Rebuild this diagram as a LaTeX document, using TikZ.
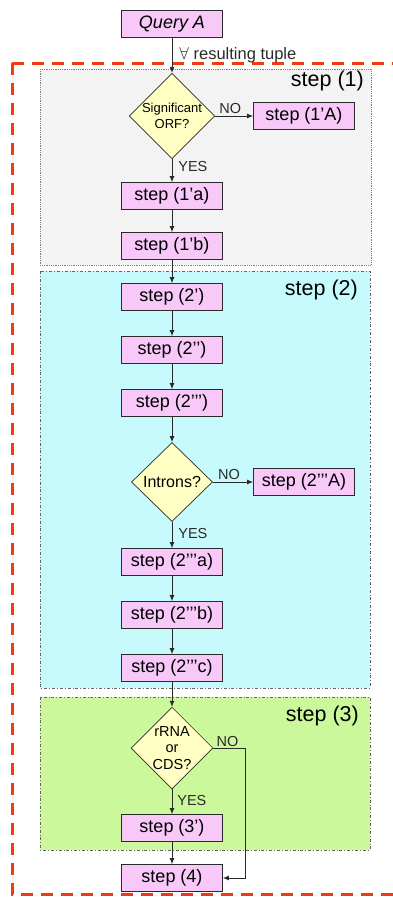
\documentclass[tikz,border=0pt]{standalone}
\usepackage{fontspec}
\setmainfont{Liberation Sans}
\usetikzlibrary{shapes.geometric,arrows.meta}
\definecolor{boxpink}{HTML}{F8C8F8}
\definecolor{diayel}{HTML}{FFFFC4}
\definecolor{grayzone}{HTML}{F3F3F3}
\definecolor{cyanzone}{HTML}{C6FAFC}
\definecolor{greenzone}{HTML}{CCF89C}
\definecolor{reddash}{HTML}{F23A12}
\definecolor{linec}{HTML}{2A2A2A}
\tikzset{
  stepbox/.style={draw=linec, line width=0.8pt, fill=boxpink, minimum width=101pt, minimum height=27pt, inner sep=0pt, font=\fontsize{18}{20}\selectfont},
  decision/.style={draw=linec, line width=0.7pt, fill=diayel, diamond, minimum width=81pt, minimum height=79pt, inner sep=0pt, align=center},
  zone/.style={line width=0.8pt},
  zonelabel/.style={anchor=north east, inner sep=0pt, font=\fontsize{21.5}{23}\selectfont},
  flow/.style={draw=linec, line width=0.8pt, -{Latex[length=6pt,width=5pt]}},
  lbl/.style={font=\fontsize{14.5}{15}\selectfont, inner sep=0pt, text=linec}
}
\begin{document}
\begin{tikzpicture}[x=1pt,y=-1pt]
\useasboundingbox (0,0) rectangle (393,897);
\clip (0,0) rectangle (393,897);
% zones
\draw[zone, fill=grayzone, draw=gray, densely dotted] (40,69) rectangle (371,265);
\draw[zone, fill=cyanzone, draw=gray!80!black, dash dot] (40,271) rectangle (370,688);
\draw[zone, fill=greenzone, draw=gray!80!black, dash dot] (40,697) rectangle (370,850);
\node[zonelabel] (z1) at (364,71) {step (1)};
\node[zonelabel] (z2) at (358,280) {step (2)};
\node[zonelabel] (z3) at (359,706) {step (3)};
% red outer
\draw[reddash, line width=3pt, dash pattern=on 12pt off 8pt] (12,63) -- (400,63);
\draw[reddash, line width=3pt, dash pattern=on 12pt off 8pt] (12,63) -- (12,894) -- (400,894);
% nodes
\node[stepbox, font=\fontsize{18}{20}\selectfont\itshape] (q) at (172,24) {Query A};
\node[decision, font=\fontsize{13}{16}\selectfont\upshape] (d1) at (172,116) {Significant\\ORF?};
\node[stepbox] (s1A) at (304,116) {step (1’A)};
\node[stepbox] (s1a) at (172,196) {step (1’a)};
\node[stepbox] (s1b) at (172,246) {step (1’b)};
\node[stepbox] (s2p) at (172,297) {step (2’)};
\node[stepbox] (s2pp) at (172,350) {step (2’’)};
\node[stepbox] (s2ppp) at (172,403) {step (2’’’)};
\node[decision, font=\fontsize{16}{18}\selectfont\upshape] (d2) at (172,482) {Introns?};
\node[stepbox] (s2A) at (304,482) {step (2’’’A)};
\node[stepbox] (s2a) at (172,562) {step (2’’’a)};
\node[stepbox] (s2b) at (172,615) {step (2’’’b)};
\node[stepbox] (s2c) at (172,668) {step (2’’’c)};
\node[decision, font=\fontsize{14.5}{16.5}\selectfont\upshape] (d3) at (172,748) {rRNA\\or\\CDS?};
\node[stepbox] (s3) at (172,828) {step (3’)};
\node[stepbox] (s4) at (172,878) {step (4)};
\coordinate (c3a) at (245,748);
\coordinate (c3b) at (245,878);
% connectors
\draw[flow] (q) -- node[lbl, anchor=west, xshift=7pt, font=\fontsize{16.5}{17}\selectfont] {$\forall$ resulting tuple} (d1);
\draw[flow] (d1) -- node[lbl, above, yshift=2pt, pos=0.4] {NO} (s1A);
\draw[flow] (d1) -- node[lbl, anchor=west, xshift=6pt, pos=0.3] {YES} (s1a);
\draw[flow] (s1a) -- (s1b);
\draw[flow] (s1b) -- (s2p);
\draw[flow] (s2p) -- (s2pp);
\draw[flow] (s2pp) -- (s2ppp);
\draw[flow] (s2ppp) -- (d2);
\draw[flow] (d2) -- node[lbl, above, yshift=2pt, pos=0.4] {NO} (s2A);
\draw[flow] (d2) -- node[lbl, anchor=west, xshift=6pt, pos=0.45] {YES} (s2a);
\draw[flow] (s2a) -- (s2b);
\draw[flow] (s2b) -- (s2c);
\draw[flow] (s2c) -- (d3);
\draw[flow] (d3.east) -- node[lbl, above, yshift=1pt, pos=0.45] {NO} (c3a) -- (c3b) -- (s4.east);
\draw[flow] (d3) -- node[lbl, anchor=west, xshift=5pt, pos=0.45] {YES} (s3);
\draw[flow] (s3) -- (s4);
\end{tikzpicture}
\end{document}
